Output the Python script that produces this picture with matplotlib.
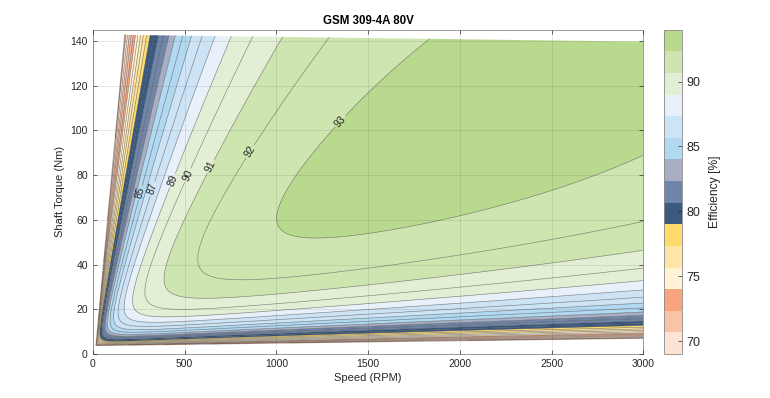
import numpy as np
import matplotlib
matplotlib.use("Agg")
import matplotlib.pyplot as plt
from matplotlib.colors import ListedColormap, Normalize
from matplotlib.cm import ScalarMappable

plt.rcParams['font.family'] = ['Liberation Sans', 'DejaVu Sans']

# loss model: losses in W, w in rad/s, T in Nm
k_cu = 0.058      # copper loss  * T^2
k_fr = 1.152      # friction     * w
k_fe = 0.034      # iron         * w^1.7
fe_exp = 1.7
k_fw = 7.8e-5     # field weak.  * w^2 * T

# measured envelope of the map
speed_max = 3000
torque_top = [142.9, 139.7]     # upper limit at 0 rpm and at 3000 rpm
torque_bottom = [3.8, 7.1]      # lower limit at 0 rpm and at 3000 rpm
left_edge = [14, 1.13]          # minimum speed = a + b * torque

levels = list(range(69, 95))
label_levels = [85, 87, 89, 90, 91, 92, 93]
label_spots = [(258, 72), (321, 74), (421, 78), (515, 80),
               (640, 84), (857, 90.5), (1365, 103)]

cbar_colors = ['#fde3d3', '#fac3a6', '#f8a57f', '#fff2d6', '#fee7a6',
               '#fedb6b', '#3b5a82', '#7086a9', '#a8afc4', '#b2d9f2',
               '#cde4f6', '#e8f1fa', '#e3efd5', '#cfe5b0', '#b9d98e']
cbar_ticks = [70, 75, 80, 85, 90]

# curvilinear grid that follows the envelope, so the edges stay smooth
u = np.linspace(0, 1, 1200)
v = np.linspace(0, 1, 600)
U, V = np.meshgrid(u, v)
top_slope = (torque_top[1] - torque_top[0]) / speed_max
bot_slope = (torque_bottom[1] - torque_bottom[0]) / speed_max
A = torque_bottom[0] + V * (torque_top[0] - torque_bottom[0])
B = bot_slope + V * (top_slope - bot_slope)
n_left = (left_edge[0] + left_edge[1] * A) / (1 - left_edge[1] * B)
N = n_left + U * (speed_max - n_left)
T = A + B * N

w = N * 2 * np.pi / 60
p_out = T * w
loss = k_cu * T**2 + k_fr * w + k_fe * w**fe_exp + k_fw * w**2 * T
eff = 100 * p_out / (p_out + loss)

cmap = ListedColormap(cbar_colors)
norm = Normalize(levels[0], levels[-1])
# matlab style: each band takes the colour of its lower level
fill_colors = [cbar_colors[0]] + [cmap(norm(lv)) for lv in levels[:-1]]

fig = plt.figure(figsize=(7.7, 3.98), dpi=100)
ax = fig.add_axes([0.1204, 0.1106, 0.7153, 0.8146])
ax.contourf(N, T, eff, levels=[0] + levels, colors=fill_colors,
            antialiased=True)
line_kw = dict(colors='#363636', linewidths=0.45, alpha=0.6)
plain = [lv for lv in levels if lv not in label_levels]
ax.contour(N, T, eff, levels=plain, **line_kw)
cs = ax.contour(N, T, eff, levels=label_levels, **line_kw)
lab = ax.clabel(cs, manual=label_spots, fmt='%d', fontsize=7.5,
                inline=True, inline_spacing=2)
for l in lab:
    l.set_color('#262626')

# outline of the measured region (left and bottom edges)
edge_n = np.concatenate([N[::-1, 0], N[0, :]])
edge_t = np.concatenate([T[::-1, 0], T[0, :]])
ax.plot(edge_n, edge_t, color='#6b4a36', lw=0.9, alpha=0.55)

ax.set_xlim(0, 3000)
ax.set_ylim(0, 145)
ax.set_xticks(range(0, 3001, 500))
ax.set_yticks(range(0, 141, 20))
ax.grid(True, color='#262626', alpha=0.15, lw=0.5)
ax.set_axisbelow(False)
ax.tick_params(direction='in', length=3, width=0.5, labelsize=7.5,
               colors='#262626', top=True, right=True)
for sp in ax.spines.values():
    sp.set_color('#8a8a8a')
    sp.set_linewidth(0.6)
ax.set_xlabel('Speed (RPM)', fontsize=8, color='#262626', labelpad=3)
ax.set_ylabel('Shaft Torque (Nm)', fontsize=8, color='#262626', labelpad=4)
ax.set_title('GSM 309-4A 80V', fontsize=8.3, fontweight='bold', pad=4)

cax = fig.add_axes([0.8627, 0.1106, 0.0226, 0.8146])
cb = fig.colorbar(ScalarMappable(norm=norm, cmap=cmap), cax=cax,
                  ticks=cbar_ticks)
cb.outline.set_edgecolor('#8a8a8a')
cb.outline.set_linewidth(0.6)
cb.ax.tick_params(direction='in', length=3, width=0.5, labelsize=9,
                  colors='#262626')
cb.set_label('Efficiency [%]', fontsize=8.7, color='#262626', labelpad=6)

fig.savefig('out.png', dpi=100)
